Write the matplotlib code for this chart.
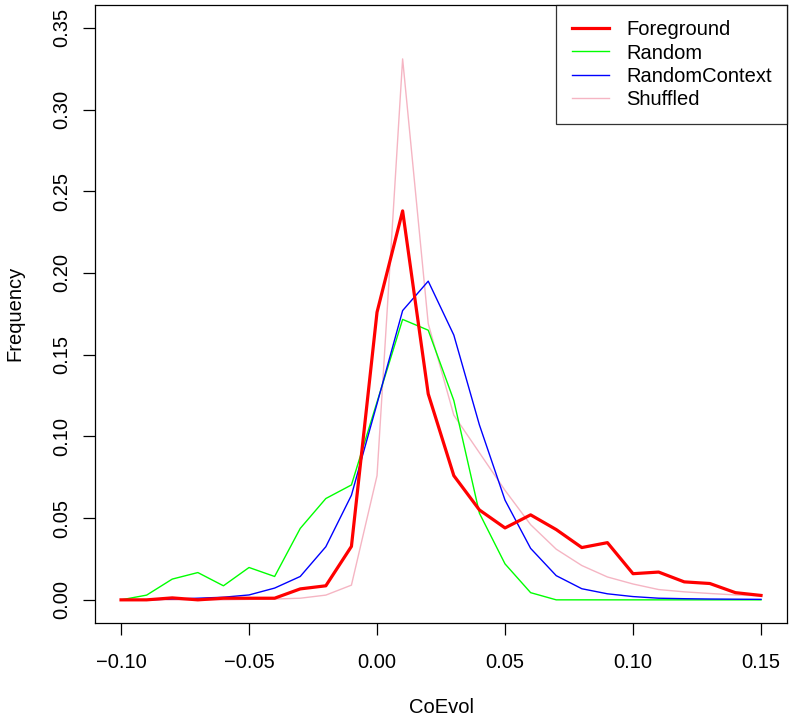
import numpy as np
import matplotlib.pyplot as plt

plt.rcParams['font.family'] = ['Liberation Sans', 'DejaVu Sans']

coevol = [-0.10, -0.09, -0.08, -0.07, -0.06, -0.05, -0.04, -0.03, -0.02, -0.01,
          0.00, 0.01, 0.02, 0.03, 0.04, 0.05, 0.06, 0.07, 0.08, 0.09,
          0.10, 0.11, 0.12, 0.13, 0.14, 0.15]

foreground = [0.0, 0.0, 0.0012, 0.0, 0.001, 0.001, 0.001, 0.0067, 0.0086, 0.0327,
              0.176, 0.238, 0.126, 0.076, 0.055, 0.044, 0.052, 0.043, 0.032, 0.035,
              0.016, 0.017, 0.011, 0.010, 0.0044, 0.0027]
random_bg = [0.0, 0.0029, 0.0127, 0.0167, 0.0086, 0.0198, 0.0143, 0.0437, 0.062, 0.0703,
             0.121, 0.1716, 0.165, 0.122, 0.053, 0.022, 0.0044, 0.0, 0.0, 0.0,
             0.0, 0.0, 0.0, 0.0, 0.0, 0.0]
random_context = [0.0, 0.0, 0.0005, 0.001, 0.0016, 0.003, 0.0072, 0.0143, 0.0325, 0.064,
                  0.12, 0.177, 0.195, 0.162, 0.107, 0.061, 0.0315, 0.0148, 0.0068, 0.0037,
                  0.002, 0.001, 0.0007, 0.0005, 0.0004, 0.0003]
shuffled = [0.0, 0.0, 0.0, 0.0, 0.0, 0.0003, 0.0005, 0.001, 0.0029, 0.009,
            0.076, 0.331, 0.169, 0.113, 0.090, 0.067, 0.046, 0.031, 0.021, 0.014,
            0.0097, 0.0063, 0.0049, 0.0039, 0.003, 0.0024]

fig = plt.figure(figsize=(7.92, 7.2), dpi=100)
ax = fig.add_axes([0.1205, 0.1351, 0.8727, 0.858])

ax.plot(coevol, foreground, color='#FF0000', lw=2.3, label='Foreground', zorder=4)
ax.plot(coevol, random_bg, color='#00FF00', lw=1.0, label='Random', zorder=2)
ax.plot(coevol, random_context, color='#0000FF', lw=1.0, label='RandomContext', zorder=3)
ax.plot(coevol, shuffled, color='#F5B5C3', lw=1.0, label='Shuffled', zorder=1)

ax.set_xlim(-0.11, 0.16)
ax.set_ylim(-0.014, 0.364)
ax.set_xticks(np.arange(-0.10, 0.151, 0.05))
ax.set_xticklabels(['\u22120.10', '\u22120.05', '0.00', '0.05', '0.10', '0.15'])
ax.set_yticks(np.arange(0, 0.351, 0.05))
ax.set_yticklabels(['%.2f' % v for v in np.arange(0, 0.351, 0.05)])
ax.tick_params(direction='out', length=8.6, width=0.9, labelsize=14.5)
ax.tick_params(axis='x', pad=13)
ax.tick_params(axis='y', pad=9)
for t in ax.get_yticklabels():
    t.set_rotation(90)
    t.set_va('center')
for s in ax.spines.values():
    s.set_linewidth(0.9)

ax.set_xlabel('CoEvol', fontsize=14.5, labelpad=19)
ax.set_ylabel('Frequency', fontsize=14.5, labelpad=20)

leg = ax.legend(loc='upper right', bbox_to_anchor=(1.0, 1.0), fontsize=14.5,
                frameon=True, fancybox=False, edgecolor='black',
                handlelength=1.85, handletextpad=0.85, labelspacing=0.22,
                borderpad=0.75, borderaxespad=0.0)
leg.get_frame().set_linewidth(0.9)

fig.savefig('out.png', dpi=100)
